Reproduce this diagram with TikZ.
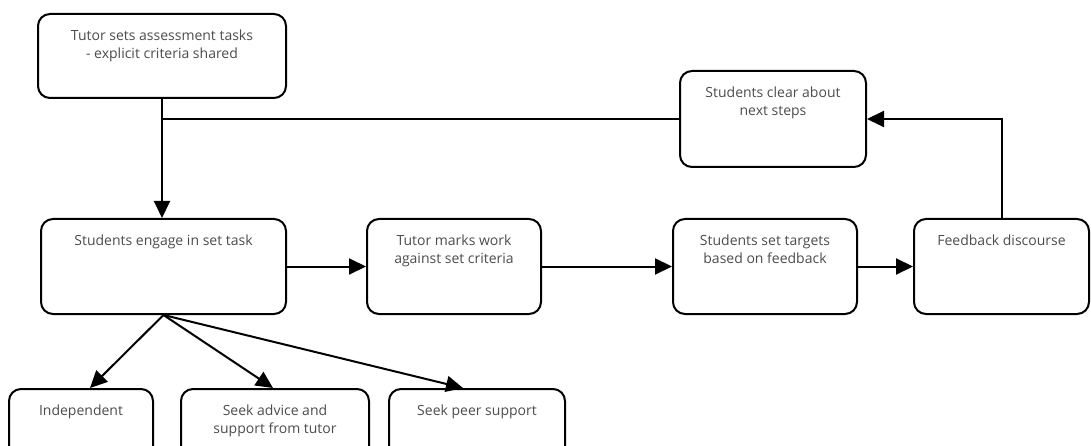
\documentclass[tikz,border=0pt]{standalone}
\usepackage{fontspec}
\setmainfont{Open Sans}
\usetikzlibrary{arrows.meta}

\begin{document}
\begin{tikzpicture}[x=1pt, y=-1pt, >={Triangle[length=17pt,width=16pt]},
    box/.style={draw, line width=2pt, rounded corners=12pt, minimum height=95pt},
    txt/.style={anchor=north, inner sep=0pt, yshift=-17pt, align=center,
        text=black!70, font=\fontsize{14}{18}\selectfont},
    link/.style={line width=2pt}]

    % Page size (bottom row runs off the edge)
    \useasboundingbox (0,0) rectangle (1091,446);
    \clip (0,0) rectangle (1091,446);

    % Top row
    \node[box, minimum width=248pt, minimum height=84pt,
        label={[txt]north:Tutor sets assessment tasks\\- explicit criteria shared}] (tasks) at (162,56) {};
    \node[box, minimum width=186pt, minimum height=96pt,
        label={[txt]north:Students clear about\\next steps}] (clear) at (773,119) {};

    % Middle row
    \node[box, minimum width=245pt,
        label={[txt]north:Students engage in set task}] (engage) at (163.5,266.5) {};
    \node[box, minimum width=174pt,
        label={[txt]north:Tutor marks work\\against set criteria}] (marks) at (454,266.5) {};
    \node[box, minimum width=184pt,
        label={[txt]north:Students set targets\\based on feedback}] (targets) at (765,266.5) {};
    \node[box, minimum width=175pt,
        label={[txt]north:Feedback discourse}] (feedback) at (1001.5,266.5) {};

    % Bottom row
    \node[box, minimum width=144pt, minimum height=80pt,
        label={[txt]north:Independent}] (indep) at (81,429) {};
    \node[box, minimum width=188pt, minimum height=80pt,
        label={[txt]north:Seek advice and\\support from tutor}] (advice) at (275,429) {};
    \node[box, minimum width=176pt, minimum height=80pt,
        label={[txt]north:Seek peer support}] (peer) at (477,429) {};

    % Main loop
    \draw[link,->] (tasks.south) -- (tasks.south |- engage.north);
    \draw[link] (clear.west) -- (clear.west -| tasks.south);
    \draw[link,->] (engage) -- (marks);
    \draw[link,->] (marks) -- (targets);
    \draw[link,->] (targets) -- (feedback);
    \draw[link,->] (feedback.north) |- (clear.east);

    % Ways of working on the task
    \draw[link,->] (engage.south) -- ([xshift=9pt]indep.north);
    \draw[link,->] (engage.south) -- ([xshift=-2pt]advice.north);
    \draw[link,->] (engage.south) -- ([xshift=-14pt]peer.north);

\end{tikzpicture}
\end{document}
